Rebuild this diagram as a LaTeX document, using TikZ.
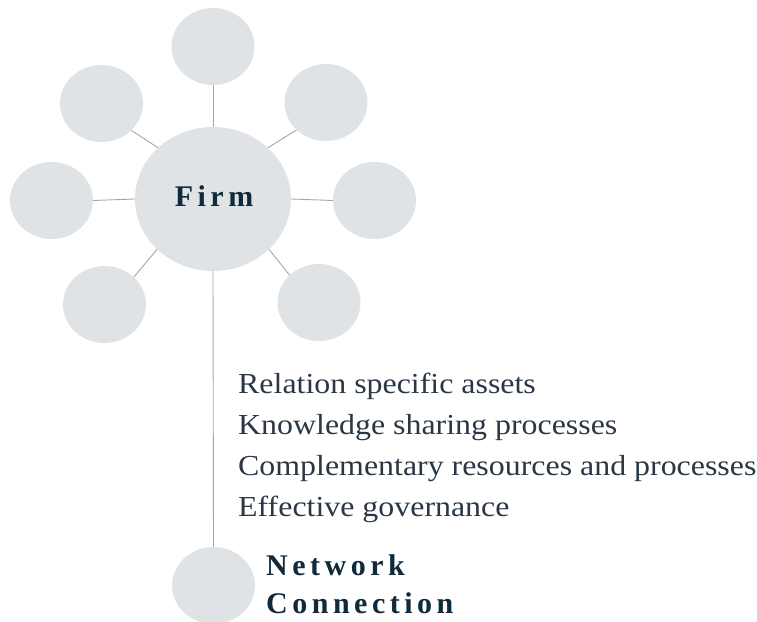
\documentclass[tikz,border=0pt]{standalone}
\usepackage{fontspec}
\setmainfont{Liberation Serif}
\newfontfamily\trackfont[LetterSpace=15]{Liberation Serif}
\newfontfamily\bodyfont[FakeStretch=1.1]{Liberation Serif}
\usetikzlibrary{shapes.geometric}
\definecolor{bubble}{HTML}{E0E3E6}
\definecolor{linkgray}{HTML}{A3A6A9}
\definecolor{titleink}{HTML}{0F2A3A}
\definecolor{bodyink}{HTML}{2B3745}
\tikzset{
  bub/.style={ellipse, fill=bubble, draw=none, inner sep=0pt, minimum width=83pt, minimum height=77pt},
  link/.style={draw=linkgray, line width=0.9pt},
  item/.style={anchor=base west, inner sep=0pt, text=bodyink, font=\bodyfont\fontsize{29}{34}\selectfont},
  title/.style={inner sep=0pt, text=titleink, font=\trackfont\bfseries\fontsize{30}{36}\selectfont}
}
\begin{document}
\begin{tikzpicture}[x=1pt,y=-1pt]
\useasboundingbox (0,0) rectangle (757,621);
\begin{scope}
\clip (0,0) rectangle (757,621);
\node[bub, minimum width=156pt, minimum height=144pt] (firm) at (213,199) {};
\node[bub] (top) at (213,46.5) {};
\node[bub] (ul) at (101.5,103.5) {};
\node[bub] (ur) at (326,102.5) {};
\node[bub] (lft) at (51.5,200.5) {};
\node[bub] (rgt) at (374.5,200.5) {};
\node[bub] (ll) at (104.5,304.5) {};
\node[bub] (lr) at (319,302.5) {};
\node[bub] (net) at (213.5,585.5) {};
\end{scope}
\draw[link] (firm.north) -- (top.south);
\draw[link] (firm.137) -- (ul.318);
\draw[link] (firm.43) -- (ur.223);
\draw[link] (firm.west) -- (lft.east);
\draw[link] (firm.east) -- (rgt.west);
\draw[link] (firm.222) -- (ll.43);
\draw[link] (firm.318) -- (lr.137);
\draw[link] (firm.south) -- (net.north);
\node[title, anchor=base] (firmlabel) at (214,206) {Firm};
\node[item] (i1) at (238,393) {Relation specific assets};
\node[item] (i2) at (238,434) {Knowledge sharing processes};
\node[item] (i3) at (238,475) {Complementary resources and processes};
\node[item] (i4) at (238,516) {Effective governance};
\node[title, anchor=base west] (netlabel1) at (266,575) {Network};
\node[title, anchor=base west] (netlabel2) at (266,613) {Connection};
\end{tikzpicture}
\end{document}
